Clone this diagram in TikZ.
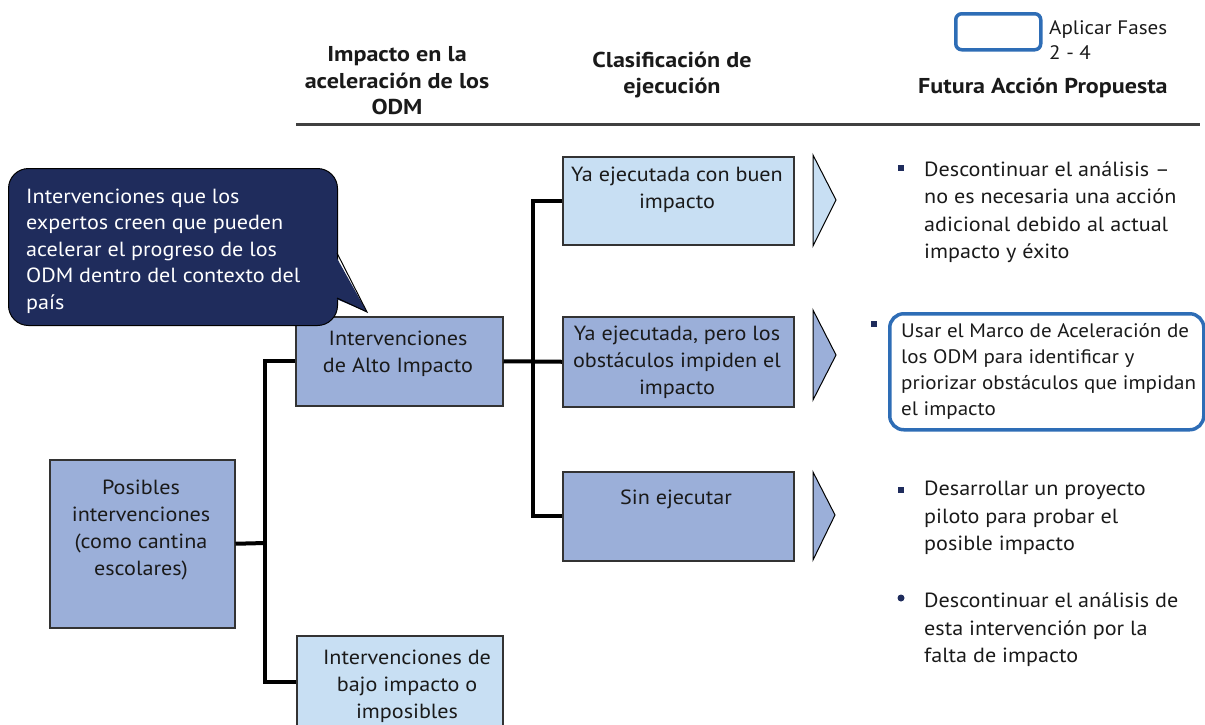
\documentclass[tikz,border=0pt]{standalone}
\usepackage{fontspec}
\setmainfont{PT Sans}[FakeStretch=1.08, BoldFeatures={FakeStretch=1.12}]
\usetikzlibrary{calc}
\definecolor{midblue}{HTML}{9BAFD9}
\definecolor{lightblue}{HTML}{C8DFF3}
\definecolor{navy}{HTML}{1F2C5C}
\definecolor{outblue}{HTML}{2E6DB6}
\definecolor{txt}{HTML}{1A1A1A}
\definecolor{boxline}{HTML}{333333}
\definecolor{rule}{HTML}{404040}
\begin{document}
\begin{tikzpicture}[x=1pt,y=-1pt,
  every node/.style={text=txt, font=\fontsize{20.5}{27}\selectfont},
  box/.style={draw=boxline, line width=1.5pt, inner sep=0pt, anchor=north west},
  boxtext/.style={align=center, inner sep=0pt},
  head/.style={align=center, inner sep=0pt, font=\fontsize{21.5}{26.5}\selectfont\bfseries},
  conn/.style={line width=4pt, draw=black},
  chev/.style={draw=black, line width=1pt, line join=miter},
  righttext/.style={anchor=west, align=left, inner sep=0pt, font=\fontsize{20.5}{27.5}\selectfont},
  bulletsq/.style={fill=navy},
]
\useasboundingbox (0,0) rectangle (1205,724);

% header
\node[head] (h1) at (397,81) {Impacto en la\\aceleración de los\\ODM};
\node[head] (h2) at (672,75) {Clasificación de\\ejecución};
\node[head, anchor=west] (h3) at (918,88) {Futura Acción Propuesta};
\draw[rule, line width=3pt] (296,124) -- (1200,124);

% legend
\node[draw=outblue, line width=3.5pt, rounded corners=6pt, minimum width=85pt, minimum height=36pt, anchor=north west] (leg) at (954,12) {};
\node[anchor=west, align=left, inner sep=0pt, font=\fontsize{19.5}{25}\selectfont] (legt) at (1049,40) {Aplicar Fases\\2 - 4};

% boxes
\node[box, fill=midblue, minimum width=185pt, minimum height=168pt] (pos) at (49,459) {};
\node[boxtext] (post) at (141,530) {Posibles\\intervenciones\\(como cantina\\escolares)};

\node[box, fill=midblue, minimum width=207pt, minimum height=89pt] (alto) at (295,316) {};
\node[boxtext] (altot) at (398,354) {Intervenciones\\de Alto Impacto};

\node[box, fill=lightblue, minimum width=206pt, minimum height=92pt] (bajo) at (296,635) {};
\node[boxtext] (bajot) at (407,686) {Intervenciones de\\bajo impacto o\\imposibles};

\node[box, fill=lightblue, minimum width=231pt, minimum height=88pt] (b1) at (562,156) {};
\node[boxtext] (b1t) at (677,190) {Ya ejecutada con buen\\impacto};

\node[box, fill=midblue, minimum width=231pt, minimum height=90pt] (b2) at (562,316) {};
\node[boxtext] (b2t) at (677,362) {Ya ejecutada, pero los\\obstáculos impiden el\\impacto};

\node[box, fill=midblue, minimum width=231pt, minimum height=89pt] (b3) at (562,471) {};
\node[boxtext] (b3t) at (676,499) {Sin ejecutar};

% connectors
\coordinate (j1) at (265,543);
\coordinate (j2) at (533,361);
\draw[conn] (pos.east) -- (j1);
\draw[conn] (alto.west) -| (j1) |- (bajo.west);
\draw[conn] (alto.east) -- (b2.west);
\draw[conn] (b1.west) -| (j2) |- (b3.west);

% chevrons
\draw[chev, fill=lightblue] (813,155) -- (836,200) -- (813,246) -- cycle;
\draw[chev, fill=midblue] (813,310) -- (836,355) -- (813,400) -- cycle;
\draw[chev, fill=midblue] (813,472) -- (835,515) -- (813,560) -- cycle;

% callout
\node[draw=black, line width=1pt, fill=navy, rounded corners=20pt, minimum width=329pt, minimum height=157pt, anchor=north west, inner sep=0pt] (call) at (8,168) {};
\fill[navy] (334,253) -- (367,312) -- (334,298) -- cycle;
\draw[black, line width=1pt, line join=miter] (337,253) -- (367,312) -- (337,298);
\node[anchor=west, align=left, inner sep=0pt, text=white, font=\fontsize{20.5}{26.5}\selectfont] (callt) at (26,251) {Intervenciones que los\\expertos creen que pueden\\acelerar el progreso de los\\ODM dentro del contexto del\\país};

% right column
\fill[bulletsq] (898,165) rectangle (904,171);
\node[righttext] (r1) at (924,212) {Descontinuar el análisis –\\no es necesaria una acción\\adicional debido al actual\\impacto y éxito};

\fill[bulletsq] (871,321) rectangle (877,327);
\node[draw=outblue, line width=3.5pt, rounded corners=14pt, minimum width=314pt, minimum height=116pt, anchor=north west] (plan) at (888,312) {};
\node[anchor=west, align=left, inner sep=0pt, font=\fontsize{19.5}{26}\selectfont] (plant) at (901,371) {Usar el Marco de Aceleración de\\los ODM para identificar y\\priorizar obstáculos que impidan\\el impacto};

\fill[bulletsq] (898,487) rectangle (904,493);
\node[righttext] (r3) at (924,518) {Desarrollar un proyecto\\piloto para probar el\\posible impacto};

\fill[navy] (901,598) circle (3.5);
\node[righttext] (r4) at (924,630) {Descontinuar el análisis de\\esta intervención por la\\falta de impacto};
\end{tikzpicture}
\end{document}
